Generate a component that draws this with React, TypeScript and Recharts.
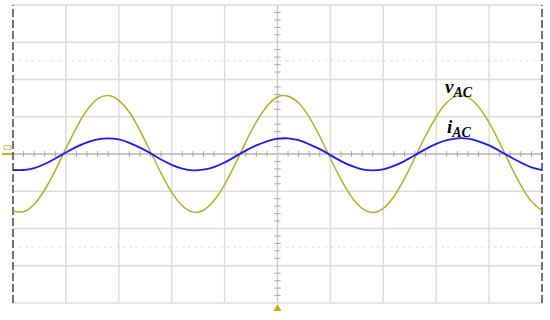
import React from 'react';
import {
  LineChart,
  Line,
  XAxis,
  YAxis,
  ReferenceLine,
  ReferenceDot,
} from 'recharts';

// time in divisions (10 div across), voltage / current in divisions (8 div high)
const TIME = [
  0, 0.2, 0.4, 0.6, 0.8, 1, 1.2, 1.4, 1.6, 1.8, 2, 2.2, 2.4, 2.6, 2.8, 3, 3.2, 3.4, 3.6, 3.8, 4,
  4.2, 4.4, 4.6, 4.8, 5, 5.2, 5.4, 5.6, 5.8, 6, 6.2, 6.4, 6.6, 6.8, 7, 7.2, 7.4, 7.6, 7.8, 8,
  8.2, 8.4, 8.6, 8.8, 9, 9.2, 9.4, 9.6, 9.8, 10,
];
const V_AC = [
  -1.53, -1.55, -1.35, -0.96, -0.44, 0.15, 0.71, 1.18, 1.48, 1.57, 1.44, 1.12, 0.63, 0.06, -0.52,
  -1.03, -1.39, -1.56, -1.51, -1.25, -0.82, -0.27, 0.32, 0.86, 1.28, 1.53, 1.55, 1.37, 0.99, 0.47,
  -0.12, -0.68, -1.15, -1.46, -1.57, -1.46, -1.14, -0.66, -0.09, 0.49, 1.0, 1.38, 1.56, 1.52, 1.27,
  0.84, 0.3, -0.29, -0.84, -1.27, -1.52,
];
const I_AC = [
  -0.43, -0.43, -0.38, -0.27, -0.12, 0.04, 0.19, 0.31, 0.39, 0.42, 0.39, 0.3, 0.17, 0.02, -0.15,
  -0.29, -0.39, -0.44, -0.42, -0.35, -0.23, -0.07, 0.09, 0.23, 0.34, 0.41, 0.42, 0.37, 0.26, 0.13,
  -0.03, -0.19, -0.32, -0.41, -0.44, -0.41, -0.32, -0.19, -0.03, 0.13, 0.27, 0.37, 0.42, 0.41, 0.34,
  0.23, 0.08, -0.08, -0.23, -0.36, -0.43,
];
const X_GRID = [1, 2, 3, 4, 6, 7, 8, 9];
const Y_GRID = [-4, -3, -2, -1, 1, 2, 3, 4];

const VOLT_COLOR = '#b3b31f';
const CURR_COLOR = '#1a1aff';
const GRID = '#dcdcdc';

const data = TIME.map((t, i) => ({ t, v: V_AC[i], i: I_AC[i] }));

// minor ticks on the centre cross, five per division
const xMinor = Array.from({ length: 51 }, (_, k) => k * 0.2).filter(x => x % 1 > 0.01 && x % 1 < 0.99);
const yMinor = Array.from({ length: 41 }, (_, k) => -4 + k * 0.2).filter(
  y => Math.abs(y - Math.round(y)) > 0.01
);

const labelStyle: React.CSSProperties = {
  position: 'absolute',
  fontFamily: '"Liberation Serif", "Times New Roman", serif',
  fontWeight: 'bold',
  fontStyle: 'italic',
  fontSize: 19,
  lineHeight: 1,
  color: '#000',
};

const Trigger = (props: any) => {
  const { cx, cy } = props;
  return <polygon points={`${cx},${cy + 1} ${cx - 4},${cy + 8} ${cx + 4},${cy + 8}`} fill="#c8b400" />;
};

export default function App() {
  return (
    <div style={{ position: 'relative', width: 550, height: 320, background: '#fff' }}>
      <style>{'body{margin:0}'}</style>
      <LineChart
        width={550}
        height={320}
        data={data}
        margin={{ top: 5, right: 8, bottom: 17, left: 13 }}
      >
        <XAxis
          dataKey="t"
          type="number"
          domain={[0, 10]}
          height={0}
          tick={false}
          tickLine={false}
          axisLine={false}
        />
        <YAxis
          type="number"
          domain={[-4, 4]}
          width={0}
          tick={false}
          tickLine={false}
          axisLine={false}
        />
        {X_GRID.map(x => (
          <ReferenceLine key={`gx${x}`} x={x} stroke={GRID} strokeWidth={1.5} />
        ))}
        {Y_GRID.map(y => (
          <ReferenceLine key={`gy${y}`} y={y} stroke={GRID} strokeWidth={1.5} />
        ))}
        <ReferenceLine y={2.5} stroke="#cfcfcf" strokeDasharray="1.5 5" />
        <ReferenceLine y={-2.5} stroke="#cfcfcf" strokeDasharray="1.5 5" />
        <ReferenceLine y={0} stroke="#b4b4b4" strokeWidth={1.5} />
        <ReferenceLine x={5} stroke="#cacaca" strokeWidth={1.5} />
        {xMinor.map(x => (
          <ReferenceLine
            key={`xm${x}`}
            segment={[{ x, y: -0.08 }, { x, y: 0.08 }]}
            stroke="#a8a8a8"
          />
        ))}
        {yMinor.map(y => (
          <ReferenceLine
            key={`ym${y}`}
            segment={[{ x: 4.94, y }, { x: 5.06, y }]}
            stroke="#a8a8a8"
          />
        ))}
        <ReferenceLine x={0} stroke="#444" strokeWidth={1.5} strokeDasharray="8 3" />
        <ReferenceLine x={10} stroke="#444" strokeWidth={1.5} strokeDasharray="8 3" />
        <Line
          type="natural"
          dataKey="v"
          stroke={VOLT_COLOR}
          strokeWidth={1.5}
          dot={false}
          isAnimationActive={false}
        />
        <Line
          type="natural"
          dataKey="i"
          stroke={CURR_COLOR}
          strokeWidth={1.8}
          dot={false}
          isAnimationActive={false}
        />
        <ReferenceDot x={5} y={-4} r={0} shape={Trigger} ifOverflow="visible" />
      </LineChart>
      <div style={{ ...labelStyle, left: 445, top: 77 }}>
        v<sub style={{ fontSize: 14, verticalAlign: -4 }}>AC</sub>
      </div>
      <div style={{ ...labelStyle, left: 447, top: 117 }}>
        i<sub style={{ fontSize: 14, verticalAlign: -4 }}>AC</sub>
      </div>
      <div
        style={{
          position: 'absolute',
          left: 3,
          top: 144,
          fontSize: 7,
          fontFamily: 'Arial, sans-serif',
          color: '#b0a020',
          lineHeight: 1,
        }}
      >
        C3
      </div>
      <div style={{ position: 'absolute', left: 2, top: 153, width: 10, height: 2, background: '#c8b400' }} />
    </div>
  );
}
